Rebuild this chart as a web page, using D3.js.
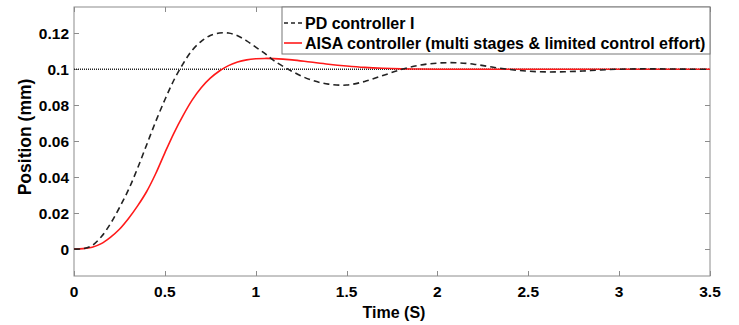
<!DOCTYPE html>
<html>
<head>
<meta charset="utf-8">
<script src="https://cdn.jsdelivr.net/npm/d3@7"></script>
<style>
  html, body { margin: 0; padding: 0; background: #fff; }
  svg { display: block; font-family: "Liberation Sans", Arial, sans-serif; }
  .tick-label { font-size: 15.5px; font-weight: bold; fill: #000; }
  .axis-title { font-size: 16px; font-weight: bold; fill: #000; }
  .legend-text { font-size: 16px; font-weight: bold; fill: #000; }
</style>
</head>
<body>
<svg id="chart" width="739" height="325"></svg>
<script>
// Step response samples (time in seconds, position in mm)
const time = [0, 0.05, 0.1, 0.15, 0.2, 0.25, 0.3, 0.35, 0.4, 0.45, 0.5, 0.55, 0.6, 0.65, 0.7, 0.75,
  0.8, 0.85, 0.9, 0.95, 1.0, 1.05, 1.1, 1.2, 1.3, 1.4, 1.5, 1.6, 1.7, 1.8, 1.9, 2.0, 2.1, 2.2,
  2.3, 2.4, 2.5, 2.6, 2.7, 2.8, 2.9, 3.0, 3.1, 3.2, 3.3, 3.4, 3.5];

const pdController = [0, 0.0002, 0.002, 0.0068, 0.014, 0.023, 0.033, 0.045, 0.058, 0.071, 0.083, 0.094,
  0.103, 0.1105, 0.1155, 0.1188, 0.1201, 0.1201, 0.1186, 0.1158, 0.1123, 0.1088, 0.1048, 0.0988,
  0.0942, 0.0917, 0.0912, 0.0932, 0.0965, 0.0998, 0.1022, 0.1034, 0.1036, 0.1028, 0.1012, 0.0998,
  0.0989, 0.0985, 0.0986, 0.099, 0.0996, 0.1, 0.1002, 0.1002, 0.1001, 0.1, 0.1];

const aisaController = [0, 0.0002, 0.001, 0.003, 0.0065, 0.011, 0.017, 0.024, 0.032, 0.042, 0.0535,
  0.0645, 0.0742, 0.0828, 0.0897, 0.095, 0.099, 0.102, 0.104, 0.1052, 0.1058, 0.106, 0.1059, 0.1052,
  0.104, 0.1028, 0.1018, 0.101, 0.1005, 0.1002, 0.1001, 0.1, 0.1, 0.1, 0.1, 0.1, 0.1, 0.1, 0.1,
  0.1, 0.1, 0.1, 0.1, 0.1, 0.1, 0.1, 0.1];

const reference = 0.1;

const xTicks = [0, 0.5, 1, 1.5, 2, 2.5, 3, 3.5];
const xTickLabels = ["0", "0.5", "1", "1.5", "2", "2.5", "3", "3.5"];
const yTicks = [0, 0.02, 0.04, 0.06, 0.08, 0.1, 0.12];
const yTickLabels = ["0", "0.02", "0.04", "0.06", "0.08", "0.1", "0.12"];

const seriesNames = ["PD controller I", "AISA controller (multi stages & limited control effort)"];

const svg = d3.select("#chart");
const margin = { left: 74, top: 7, right: 29, bottom: 49 };
const W = 739, H = 325;
const x0 = margin.left, x1 = W - margin.right;
const y0 = margin.top, y1 = H - margin.bottom;

const x = d3.scaleLinear().domain([0, 3.5]).range([x0, x1]);
const y = d3.scaleLinear().domain([-0.015, 0.1346]).range([y1, y0]);

const axisColor = "#8c8c8c";
const tickLen = 5;

// Axis box and inward ticks on all four sides
const g = svg.append("g");
g.append("rect").attr("x", x0).attr("y", y0).attr("width", x1 - x0).attr("height", y1 - y0)
  .attr("fill", "none").attr("stroke", axisColor).attr("stroke-width", 1);

xTicks.forEach(t => {
  const px = Math.round(x(t)) + 0.5;
  g.append("line").attr("x1", px).attr("x2", px).attr("y1", y1).attr("y2", y1 - tickLen)
    .attr("stroke", axisColor);
  g.append("line").attr("x1", px).attr("x2", px).attr("y1", y0).attr("y2", y0 + tickLen)
    .attr("stroke", axisColor);
});
yTicks.forEach(v => {
  const py = Math.round(y(v)) + 0.5;
  g.append("line").attr("x1", x0).attr("x2", x0 + tickLen).attr("y1", py).attr("y2", py)
    .attr("stroke", axisColor);
  g.append("line").attr("x1", x1).attr("x2", x1 - tickLen).attr("y1", py).attr("y2", py)
    .attr("stroke", axisColor);
});

// Tick labels
g.selectAll(".xl").data(xTicks).enter().append("text")
  .attr("class", "tick-label").attr("text-anchor", "middle")
  .attr("x", d => x(d)).attr("y", y1 + 21)
  .text((d, i) => xTickLabels[i]);
g.selectAll(".yl").data(yTicks).enter().append("text")
  .attr("class", "tick-label").attr("text-anchor", "end")
  .attr("x", x0 - 5).attr("y", d => y(d) + 5.5)
  .text((d, i) => yTickLabels[i]);

// Axis titles
svg.append("text").attr("class", "axis-title").attr("text-anchor", "middle")
  .attr("x", (x0 + x1) / 2 + 2).attr("y", 318).text("Time (S)");
svg.append("text").attr("class", "axis-title").attr("text-anchor", "middle")
  .style("font-size", "17.5px")
  .attr("transform", "translate(31, 137) rotate(-90)").text("Position (mm)");

// Reference level
svg.append("line").attr("x1", x(0)).attr("x2", x(3.5))
  .attr("y1", y(reference)).attr("y2", y(reference))
  .attr("stroke", "#222").attr("stroke-width", 1.5).attr("stroke-dasharray", "1,1");

const line = d3.line().curve(d3.curveCatmullRom.alpha(0.5));

const pdPts = time.map((t, i) => [x(t), y(pdController[i])]);
const aisaPts = time.map((t, i) => [x(t), y(aisaController[i])]);

svg.append("path").attr("d", line(aisaPts)).attr("fill", "none")
  .attr("stroke", "#ff1a1a").attr("stroke-width", 1.6);
svg.append("path").attr("d", line(pdPts)).attr("fill", "none")
  .attr("stroke", "#222").attr("stroke-width", 1.6).attr("stroke-dasharray", "6,4");

// Legend
const lg = svg.append("g");
lg.append("rect").attr("x", 282).attr("y", y0).attr("width", x1 - 282).attr("height", 47)
  .attr("fill", "#fff").attr("stroke", "#777").attr("stroke-width", 1);
const rows = [
  { name: seriesNames[0], color: "#222", dash: "4,3", yc: 23 },
  { name: seriesNames[1], color: "#ff1a1a", dash: null, yc: 43 }
];
rows.forEach(r => {
  const ln = lg.append("line").attr("x1", 284).attr("x2", 302).attr("y1", r.yc).attr("y2", r.yc)
    .attr("stroke", r.color).attr("stroke-width", 1.6);
  if (r.dash) ln.attr("stroke-dasharray", r.dash);
  lg.append("text").attr("class", "legend-text").attr("x", 305).attr("y", r.yc + 6).text(r.name);
});
</script>
</body>
</html>
